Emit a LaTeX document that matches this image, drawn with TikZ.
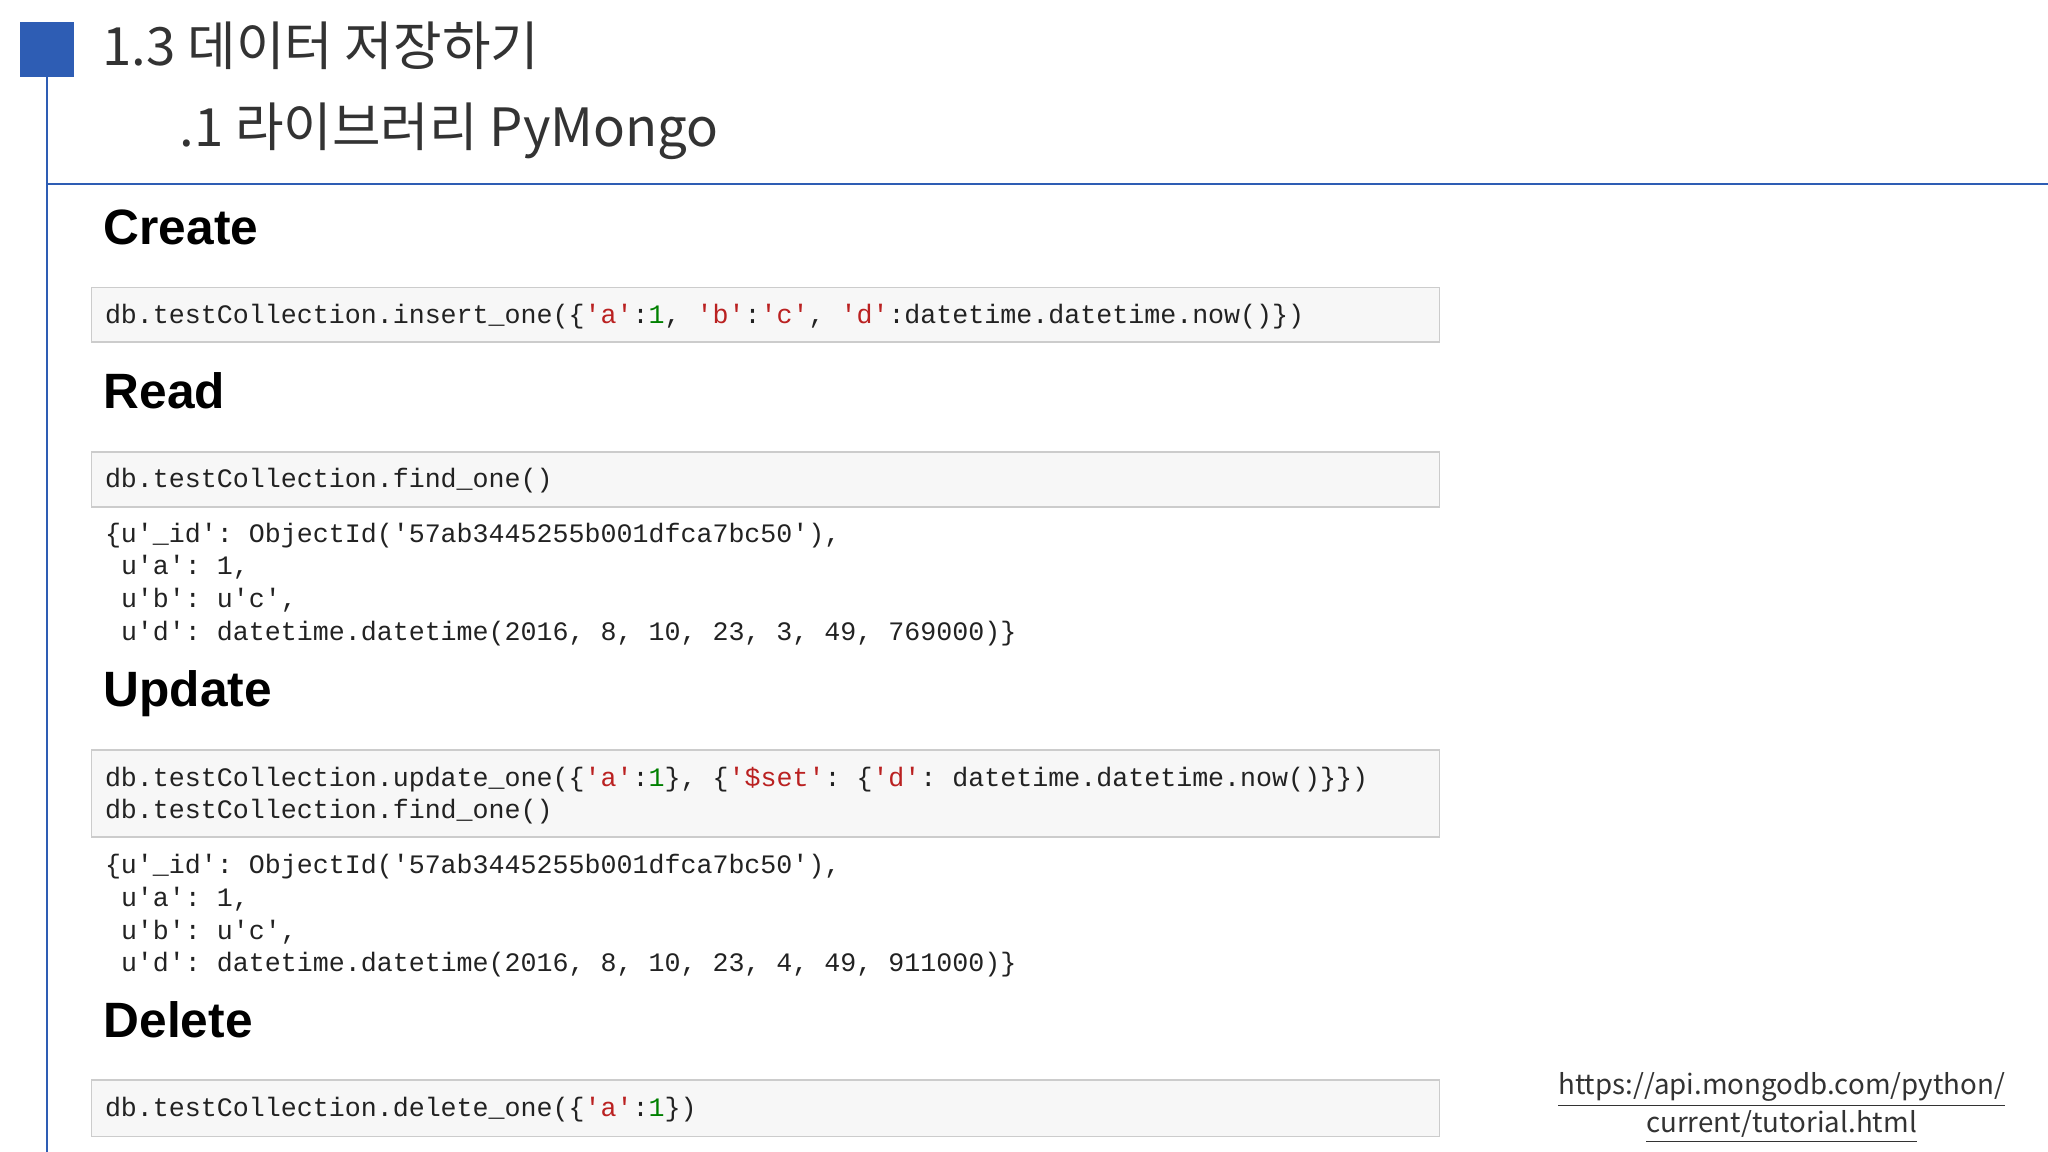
\documentclass[tikz,border=0pt]{standalone}
\usepackage{fontspec}
\setmainfont{Liberation Sans}
\setmonofont{Liberation Mono}
\newfontfamily\kr{Noto Sans CJK KR}
\definecolor{hblue}{HTML}{2E5DB4}
\definecolor{sred}{HTML}{BA2121}
\definecolor{ngreen}{HTML}{008000}
\definecolor{txt}{HTML}{222222}
\newcommand{\rs}[1]{\textcolor{sred}{#1}}
\newcommand{\gn}[1]{\textcolor{ngreen}{#1}}
\begin{document}
\begin{tikzpicture}[x=0.5pt,y=-0.5pt,
  codebox/.style={draw=black!20,fill=black!3,line width=0.6pt},
  code/.style={anchor=base west,inner sep=0,font=\ttfamily\fontsize{10.2}{12}\selectfont,text=txt},
  head/.style={anchor=base west,inner sep=0,font=\bfseries\fontsize{19}{21}\selectfont,text=black},
  ttl/.style={anchor=base west,inner sep=0,font=\kr\fontsize{20.2}{24}\selectfont,text=black!80}]
\useasboundingbox (0,0) rectangle (1568,882);
\fill[hblue] (15,17) rectangle (57,59);
\draw[hblue,line width=1pt] (36,59) -- (36,882);
\draw[hblue,line width=1pt] (36,141) -- (1568,141);
\node[ttl] (t1) at (78,50) {1.3 데이터 저장하기};
\node[ttl] (t2) at (137,112) {.1 라이브러리 PyMongo};

\node[head] (h1) at (79,187) {Create};
\draw[codebox] (70,220) rectangle (1102,262);
\node[code] (c1) at (80,248) {db.testCollection.insert\_one(\{\rs{'a'}:\gn{1}, \rs{'b'}:\rs{'c'}, \rs{'d'}:datetime.datetime.now()\})};

\node[head] (h2) at (79,313) {Read};
\draw[codebox] (70,346) rectangle (1102,388);
\node[code] (c2) at (80,373) {db.testCollection.find\_one()};
\node[code] (o1) at (80,415) {\{u'\_id': ObjectId('57ab3445255b001dfca7bc50'),};
\node[code] (o2) at (80,440) {\ u'a': 1,};
\node[code] (o3) at (80,465) {\ u'b': u'c',};
\node[code] (o4) at (80,490) {\ u'd': datetime.datetime(2016, 8, 10, 23, 3, 49, 769000)\}};

\node[head] (h3) at (79,541) {Update};
\draw[codebox] (70,574) rectangle (1102,641);
\node[code] (c3) at (80,602) {db.testCollection.update\_one(\{\rs{'a'}:\gn{1}\}, \{\rs{'\$set'}: \{\rs{'d'}: datetime.datetime.now()\}\})};
\node[code] (c4) at (80,627) {db.testCollection.find\_one()};
\node[code] (p1) at (80,669) {\{u'\_id': ObjectId('57ab3445255b001dfca7bc50'),};
\node[code] (p2) at (80,694) {\ u'a': 1,};
\node[code] (p3) at (80,719) {\ u'b': u'c',};
\node[code] (p4) at (80,744) {\ u'd': datetime.datetime(2016, 8, 10, 23, 4, 49, 911000)\}};

\node[head] (h4) at (79,794) {Delete};
\draw[codebox] (70,827) rectangle (1102,870);
\node[code] (c5) at (80,855) {db.testCollection.delete\_one(\{\rs{'a'}:\gn{1}\})};

\node[anchor=base,inner sep=0,font=\kr\fontsize{10.6}{13}\selectfont,text=black!80] (l1) at (1364,838) {\underline{https://api.mongodb.com/python/}};
\node[anchor=base,inner sep=0,font=\kr\fontsize{10.6}{13}\selectfont,text=black!80] (l2) at (1364,867) {\underline{current/tutorial.html}};
\end{tikzpicture}
\end{document}
